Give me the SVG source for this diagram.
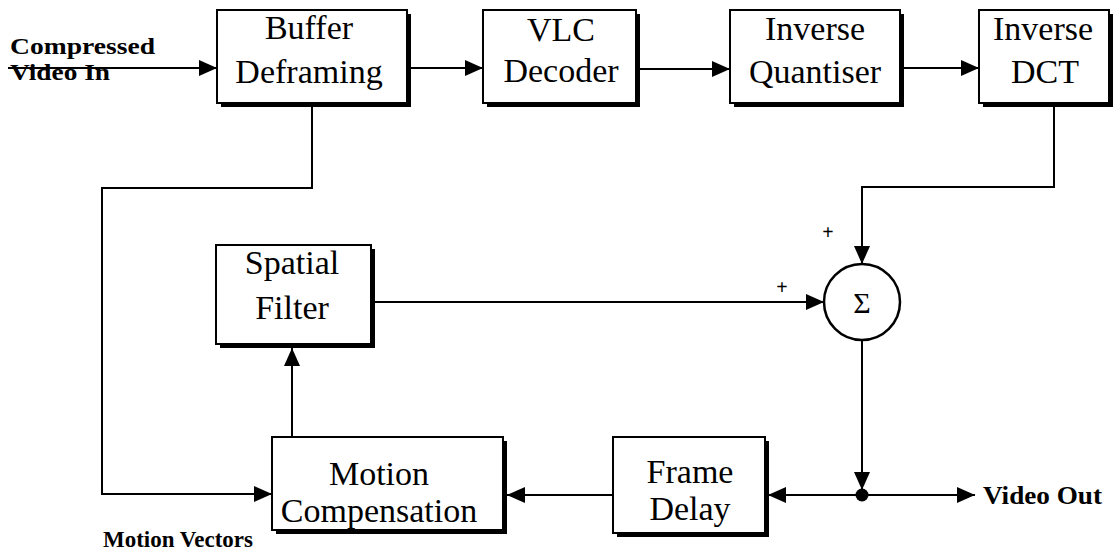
<svg xmlns="http://www.w3.org/2000/svg" width="1117" height="554" viewBox="0 0 1117 554">
  <style>
    .box { fill: #ffffff; stroke: #000000; stroke-width: 2; }
    .shadow { fill: #000000; }
    .lbl { font-size: 34px; fill: #000000; text-anchor: middle; }
    .io { font-size: 23px; font-weight: bold; fill: #000000; }
    .sign { font-size: 20px; font-weight: bold; fill: #000000; text-anchor: middle; }
    .wire { fill: none; stroke: #000000; stroke-width: 2; }
  </style>
  <defs>
    <marker id="arrow" markerUnits="userSpaceOnUse" markerWidth="18" markerHeight="16" refX="18" refY="8" orient="auto">
      <path d="M0,0 L18,8 L0,16 Z" fill="#000000"/>
    </marker>
  </defs>
  <rect width="1117" height="554" fill="#ffffff"/>

  <!-- connectors -->
  <g id="connectors">
    <!-- compressed input -->
    <line class="wire" x1="8" y1="68" x2="217" y2="68" marker-end="url(#arrow)"/>
    <!-- top chain -->
    <line class="wire" x1="410" y1="68" x2="483" y2="68" marker-end="url(#arrow)"/>
    <line class="wire" x1="640" y1="69" x2="730" y2="69" marker-end="url(#arrow)"/>
    <line class="wire" x1="904" y1="68" x2="979" y2="68" marker-end="url(#arrow)"/>
    <!-- IDCT to summer -->
    <polyline class="wire" points="1054,106 1054,187 862,187 862,264" marker-end="url(#arrow)"/>
    <!-- spatial filter to summer -->
    <line class="wire" x1="374" y1="302" x2="824" y2="302" marker-end="url(#arrow)"/>
    <!-- summer down to junction -->
    <line class="wire" x1="862" y1="340" x2="862" y2="490" marker-end="url(#arrow)"/>
    <!-- junction to frame delay and output -->
    <line class="wire" x1="862" y1="495" x2="768" y2="495" marker-end="url(#arrow)"/>
    <line class="wire" x1="862" y1="495" x2="975" y2="495" marker-end="url(#arrow)"/>
    <circle cx="862" cy="495" r="6.5" fill="#000000"/>
    <!-- frame delay to motion compensation -->
    <line class="wire" x1="613" y1="495" x2="507" y2="495" marker-end="url(#arrow)"/>
    <!-- motion compensation to spatial filter -->
    <line class="wire" x1="292" y1="437" x2="292" y2="348" marker-end="url(#arrow)"/>
    <!-- motion vectors path -->
    <polyline class="wire" points="312,106 312,188 102,188 102,494 272,494" marker-end="url(#arrow)"/>
  </g>

  <g font-family="Liberation Serif, Times New Roman, serif">
    <g id="buffer-deframing">
      <rect class="shadow" x="221" y="14" width="190" height="93"/>
      <rect class="box" x="217" y="10" width="190" height="93"/>
      <text class="lbl" x="309" y="39">Buffer</text>
      <text class="lbl" x="309" y="83">Deframing</text>
    </g>

    <g id="vlc-decoder">
      <rect class="shadow" x="487" y="14" width="153" height="93"/>
      <rect class="box" x="483" y="10" width="153" height="93"/>
      <text class="lbl" x="561" y="41">VLC</text>
      <text class="lbl" x="561" y="82">Decoder</text>
    </g>

    <g id="inverse-quantiser">
      <rect class="shadow" x="734" y="14" width="170" height="93"/>
      <rect class="box" x="730" y="10" width="170" height="93"/>
      <text class="lbl" x="815" y="40">Inverse</text>
      <text class="lbl" x="815" y="83">Quantiser</text>
    </g>

    <g id="inverse-dct">
      <rect class="shadow" x="983" y="14" width="130" height="93"/>
      <rect class="box" x="979" y="10" width="130" height="93"/>
      <text class="lbl" x="1043" y="40">Inverse</text>
      <text class="lbl" x="1045" y="83">DCT</text>
    </g>

    <g id="spatial-filter">
      <rect class="shadow" x="220" y="249" width="155" height="99"/>
      <rect class="box" x="216" y="245" width="155" height="99"/>
      <text class="lbl" x="292" y="274">Spatial</text>
      <text class="lbl" x="292" y="319">Filter</text>
    </g>

    <g id="summer">
      <circle cx="862" cy="302" r="38" fill="#ffffff" stroke="#000000" stroke-width="2.5"/>
      <text class="lbl" x="862" y="313" style="font-size:30px">Σ</text>
      <text class="sign" x="828" y="239">+</text>
      <text class="sign" x="782" y="294">+</text>
    </g>

    <g id="motion-compensation">
      <rect class="shadow" x="276" y="441" width="231" height="93"/>
      <rect class="box" x="272" y="437" width="231" height="93"/>
      <text class="lbl" x="379" y="485">Motion</text>
      <text class="lbl" x="379" y="522">Compensation</text>
    </g>

    <g id="frame-delay">
      <rect class="shadow" x="617" y="441" width="152" height="96"/>
      <rect class="box" x="613" y="437" width="152" height="96"/>
      <text class="lbl" x="690" y="483">Frame</text>
      <text class="lbl" x="690" y="520">Delay</text>
    </g>

    <g id="io-labels">
      <text class="io" x="10" y="54" textLength="145" lengthAdjust="spacingAndGlyphs">Compressed</text>
      <text class="io" x="10" y="80" textLength="100" lengthAdjust="spacingAndGlyphs">Video In</text>
      <text class="io" x="103" y="547" textLength="150" lengthAdjust="spacingAndGlyphs">Motion Vectors</text>
      <text class="io" x="983" y="504" textLength="119" lengthAdjust="spacingAndGlyphs" style="font-size:26px">Video Out</text>
    </g>
  </g>
</svg>
